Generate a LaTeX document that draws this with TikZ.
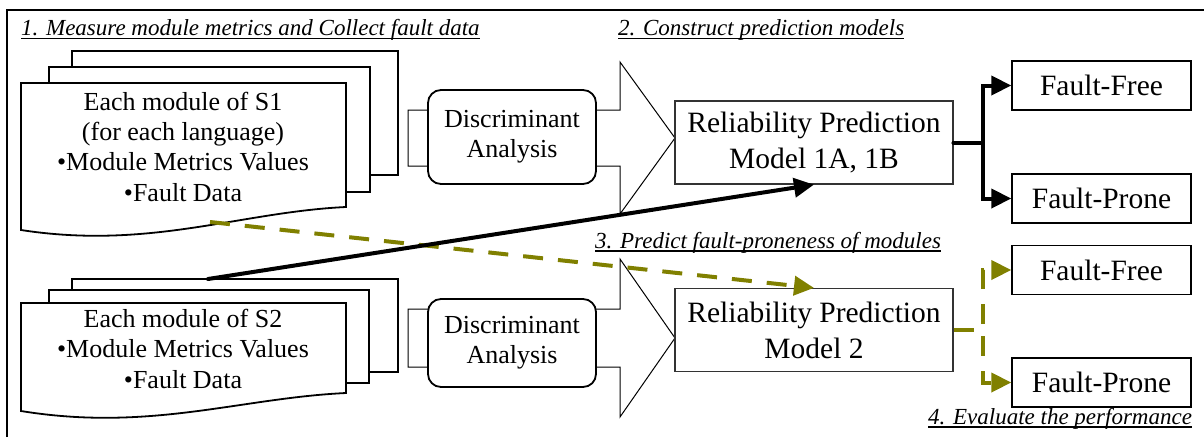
\documentclass[tikz,border=0pt]{standalone}
\usepackage{fontspec}
\setmainfont{Liberation Serif}
\usetikzlibrary{arrows.meta}
\definecolor{faultolive}{RGB}{128,128,0}

\begin{document}
\begin{tikzpicture}[x=1pt,y=-1pt,
  sheet/.style={draw=black,line width=1.8pt,fill=white,line join=miter},
  doctext/.style={font=\fontsize{26}{30.3}\selectfont,align=center,anchor=base,inner sep=0pt},
  blockarrow/.style={draw=black,line width=1pt,fill=white},
  analysis/.style={draw=black,line width=1.8pt,fill=white,rounded corners=13pt,
    minimum width=168pt,align=center,font=\fontsize{26}{30}\selectfont,inner sep=0pt},
  model/.style={draw=black!80,line width=1.2pt,fill=white,minimum width=278pt,
    minimum height=83pt,align=center,font=\fontsize{29.5}{36}\selectfont,inner sep=0pt},
  outcome/.style={draw=black,line width=1.4pt,minimum width=179pt,minimum height=49pt,
    font=\fontsize{29.5}{36}\selectfont,inner sep=0pt},
  steptitle/.style={font=\fontsize{23}{27}\selectfont\itshape,anchor=base west,inner sep=0pt},
  underrule/.style={line width=1.2pt},
  solidlink/.style={line width=4pt,line cap=round,-{Triangle[length=20pt,width=19pt]}},
  predlink/.style={line width=4pt,faultolive,dash pattern=on 20pt off 15pt,
    -{Triangle[length=20pt,width=19pt]}},
]
\useasboundingbox (0,0) rectangle (1204,437);

% outer frame
\draw[line width=1.6pt] (7,437) -- (7,10) -- (1204,10);

% step titles
\node[steptitle] (t1) at (21,35.5) {1. Measure module metrics and Collect fault data};
\node[steptitle] (t2) at (618,35.5) {2. Construct prediction models};
\node[steptitle] (t3) at (595,248) {3. Predict fault-proneness of modules};
\node[steptitle] (t4) at (928,424) {4. Evaluate the performance};
\foreach \t in {t1,t2,t3,t4}
  \draw[underrule] ([yshift=-3pt]\t.base west) -- ([yshift=-3pt]\t.base east);

% document stack for S1 (the text's base is its last line)
\draw[sheet] (72,51) rectangle (398,175);
\draw[sheet] (49,67) rectangle (370,192);
\draw[sheet] (21,83) -- (346,83) -- (346,207)
  .. controls (240,212) and (150,250) .. (21,230) -- cycle;
\node[doctext] (s1) at (183,201)
  {Each module of S1\\(for each language)\\•Module Metrics Values\\•Fault Data};

% document stack for S2
\draw[sheet] (72,279) rectangle (398,372);
\draw[sheet] (49,290) rectangle (369,383);
\draw[sheet] (21,303) -- (346,303) -- (346,393)
  .. controls (240,398) and (150,432) .. (21,411) -- cycle;
\node[doctext] (s2) at (183,388)
  {Each module of S2\\•Module Metrics Values\\•Fault Data};

% block arrows behind the analysis boxes
\draw[blockarrow] (408,110) -- (620,110) -- (620,62) -- (675,138)
  -- (620,214) -- (620,166) -- (408,166) -- cycle;
\draw[blockarrow] (408,309) -- (620,309) -- (620,259) -- (675,338)
  -- (620,417) -- (620,367) -- (408,367) -- cycle;

% discriminant analysis
\node[analysis,minimum height=94pt] (d1) at (512,137) {Discriminant\\Analysis};
\node[analysis,minimum height=88pt] (d2) at (512,343) {Discriminant\\Analysis};

% prediction models
\node[model] (r1) at (814,142.5) {Reliability Prediction\\Model 1A, 1B};
\node[model] (r2) at (814,330) {Reliability Prediction\\Model 2};

% outcomes
\node[outcome] (ff1) at (1101.5,85.5) {Fault-Free};
\node[outcome] (fp1) at (1101.5,198.5) {Fault-Prone};
\node[outcome] (ff2) at (1101.5,270) {Fault-Free};
\node[outcome] (fp2) at (1101.5,382.5) {Fault-Prone};

% classification links
\draw[solidlink] (r1.east) -- ++(29,0) |- (ff1.west);
\draw[solidlink] (r1.east) -- ++(29,0) |- (fp1.west);
\draw[predlink] (r2.east) -- ++(29,0) |- (ff2.west);
\draw[predlink] (r2.east) -- ++(29,0) |- (fp2.west);

% data flow between the two systems
\coordinate (s1foot) at (210,222);
\coordinate (s2head) at (208,279);
\draw[predlink] (s1foot) -- (r2.north);
\draw[solidlink] (s2head) -- (r1.south);
\end{tikzpicture}
\end{document}
